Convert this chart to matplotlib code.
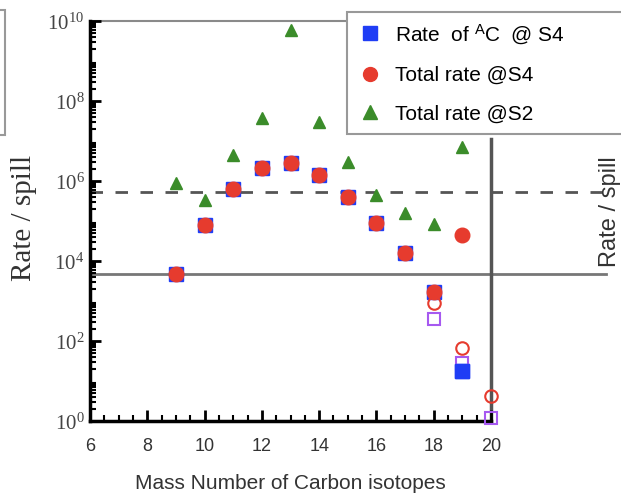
import matplotlib
matplotlib.use("Agg")
import matplotlib.pyplot as plt
from matplotlib.lines import Line2D
from matplotlib.patches import Rectangle

plt.rcParams["mathtext.fontset"] = "custom"
plt.rcParams["mathtext.rm"] = "Liberation Serif"
plt.rcParams["mathtext.sf"] = "Liberation Sans"
plt.rcParams["mathtext.default"] = "rm"

# ---- data ----
mass = [9, 10, 11, 12, 13, 14, 15, 16, 17, 18, 19]
rate_AC_S4 = [4.7e3, 8e4, 6.3e5, 2.1e6, 2.8e6, 1.4e6, 4e5, 9e4, 1.6e4, 1.7e3, 18]
mass_tot4 = [9, 10, 11, 12, 13, 14, 15, 16, 17, 18, 19]
total_S4 = [4.7e3, 8e4, 6.3e5, 2.1e6, 2.8e6, 1.4e6, 4e5, 9e4, 1.6e4, 1.7e3, 4.5e4]
mass_S2 = [9, 10, 11, 12, 13, 14, 15, 16, 17, 18, 19]
total_S2 = [9e5, 3.3e5, 4.5e6, 3.8e7, 6e9, 3e7, 3e6, 4.5e5, 1.6e5, 8.4e4, 7e6]
mass_open = [18, 19, 20]
open_circle = [900, 67, 4.2]
open_square = [355, 28, 1.2]
dashed_level = 5.3e5
solid_level = 4.7e3

xticks = [6, 8, 10, 12, 14, 16, 18, 20]
yticks = [1e0, 1e2, 1e4, 1e6, 1e8, 1e10]
ytick_labels = [r"$10^{0}$", r"$10^{2}$", r"$10^{4}$", r"$10^{6}$", r"$10^{8}$", r"$10^{10}$"]

W, H = 621, 497
fig = plt.figure(figsize=(W / 100, H / 100), dpi=100)
ax = fig.add_axes([90 / W, 1 - 421 / H, (491 - 90) / W, (421 - 21) / H])
ax.set_yscale("log")
ax.set_xlim(6, 20)
ax.set_ylim(1, 1e10)

blue = "#1f3df5"
red = "#e63b2e"
green = "#3b8c2a"
purple = "#a659f0"

# reference lines (extend outside axes)
ax.plot([6, 24], [dashed_level, dashed_level], ls=(0, (4.5, 4.5)), color="#555555", lw=2, clip_on=False, zorder=1)
ax.plot([6, 24], [solid_level, solid_level], color="#777777", lw=2, clip_on=False, zorder=1)
ax.plot([6, 16], [1e10, 1e10], color="#8a8a8a", lw=1.5, clip_on=False, zorder=1)
ax.plot([20, 20], [1, 1.1e7], color="#555555", lw=2.5, clip_on=False, zorder=1)

# data
ax.plot(mass, rate_AC_S4, ls="none", marker="s", ms=10, color=blue, zorder=3, clip_on=False)
ax.plot(mass_tot4, total_S4, ls="none", marker="o", ms=10.5, color=red, zorder=4, clip_on=False)
ax.plot(mass_S2, total_S2, ls="none", marker="^", ms=9, color=green, zorder=5, clip_on=False)
ax.plot(mass_open, open_square, ls="none", marker="s", ms=9, mfc="none", mec=purple, mew=1.5, zorder=3, clip_on=False)
ax.plot(mass_open, open_circle, ls="none", marker="o", ms=9, mfc="none", mec=red, mew=1.5, zorder=3, clip_on=False)
ax.plot(mass[-1:], rate_AC_S4[-1:], ls="none", marker="s", ms=10, color=blue, zorder=6)

# axes style
for s in ["top", "right"]:
    ax.spines[s].set_visible(False)
for s in ["left", "bottom"]:
    ax.spines[s].set_linewidth(2.5)
ax.set_xticks(xticks)
ax.set_xticks([x + 0.5 for x in range(6, 20)] + [x for x in range(7, 20, 2)], minor=True)
ax.set_xticklabels([str(x) for x in xticks], family="Liberation Sans", fontsize=13, color="#333333")
ax.set_yticks(yticks)
ax.set_yticklabels(ytick_labels, fontsize=15, color="#444444")
ax.yaxis.set_minor_locator(matplotlib.ticker.LogLocator(base=10, subs=range(2, 10), numticks=100))
ax.yaxis.set_minor_formatter(matplotlib.ticker.NullFormatter())
ax.tick_params(axis="both", which="major", direction="in", length=8, width=2)
ax.tick_params(axis="both", which="minor", direction="in", length=4, width=1.5)
ax.tick_params(axis="x", pad=12)
ax.tick_params(axis="y", pad=4)

ax.set_xlabel("Mass Number of Carbon isotopes", family="Liberation Sans", fontsize=15, color="#333333", labelpad=14)

# left partial label & box (from neighbouring panel)
fig.text(24 / W, 1 - 218 / H, "Rate / spill", family="Liberation Serif", fontsize=21,
         rotation=90, ha="center", va="center", color="#333333")
fig.patches.append(Rectangle((-20 / W, 1 - 135 / H), 25 / W, 125 / H, transform=fig.transFigure,
                             fill=False, ec="#999999", lw=1.5))
# right partial label
fig.text(610 / W, 1 - 212 / H, "Rate / spill", family="Liberation Sans", fontsize=17,
         rotation=90, ha="center", va="center", color="#333333")

handles = [
    Line2D([], [], ls="none", marker="s", ms=10, color=blue),
    Line2D([], [], ls="none", marker="o", ms=10, color=red),
    Line2D([], [], ls="none", marker="^", ms=10, color=green),
]
labels = [r"Rate  of $^{\mathsf{A}}$C  @ S4", "Total rate @S4", "Total rate @S2"]
leg = fig.legend(handles, labels, loc="upper left", bbox_to_anchor=(347 / W, 1 - 12 / H, 300 / W, 0),
                 mode="expand",
                 prop={"family": "Liberation Sans", "size": 15}, frameon=True, fancybox=False,
                 edgecolor="#999999", framealpha=1, borderpad=0.5, labelspacing=0.95,
                 handletextpad=0.6, handlelength=1.2, borderaxespad=0)
leg.get_frame().set_linewidth(1.5)

fig.savefig("out.png", dpi=100)
